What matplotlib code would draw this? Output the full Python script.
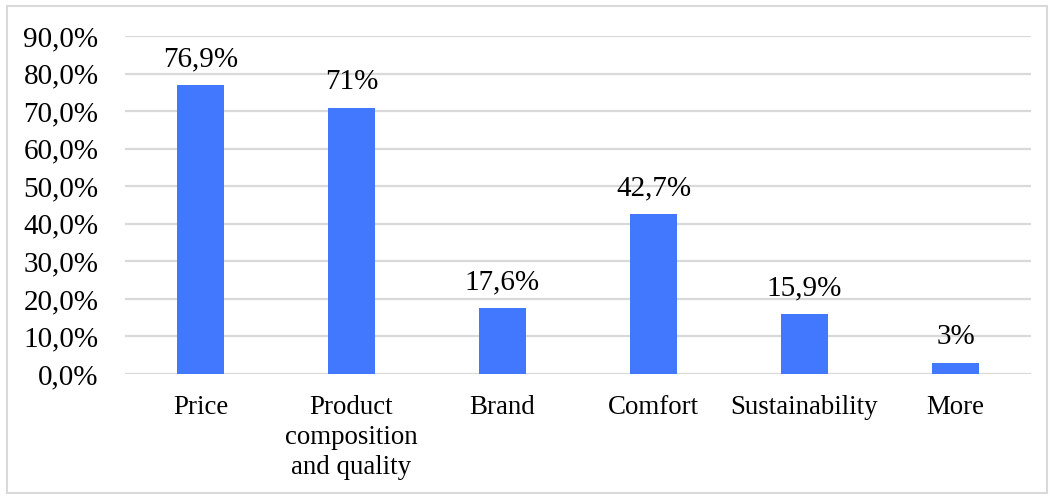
import matplotlib
matplotlib.use("Agg")
import matplotlib.pyplot as plt
from matplotlib.patches import Rectangle

categories = ["Price", "Product\ncomposition\nand quality", "Brand", "Comfort", "Sustainability", "More"]
values = [76.9, 71.0, 17.6, 42.7, 15.9, 3.0]
value_labels = ["76,9%", "71%", "17,6%", "42,7%", "15,9%", "3%"]
y_ticks = [0, 10, 20, 30, 40, 50, 60, 70, 80, 90]

plt.rcParams["font.family"] = ["Liberation Serif", "DejaVu Serif"]
NUM_FS = 21
CAT_FS = 19.4

fig = plt.figure(figsize=(10.52, 4.96), dpi=100)
ax = fig.add_axes([0.1188, 0.246, 0.8612, 0.681])

x = list(range(len(categories)))
ax.bar(x, values, width=0.31, color="#4178fe", zorder=3)

for xi, v, lab in zip(x, values, value_labels):
    ax.annotate(lab, (xi, v), xytext=(0, 9), textcoords="offset points",
                ha="center", va="bottom", fontsize=NUM_FS, color="#000000", zorder=4)

ax.set_xlim(-0.5, len(categories) - 0.5)
ax.set_ylim(0, 90)
ax.set_yticks(y_ticks)
ax.set_yticklabels([f"{t},0%" for t in y_ticks], fontsize=NUM_FS)
ax.set_xticks(x)
ax.set_xticklabels(categories, fontsize=CAT_FS, linespacing=1.28)
ax.tick_params(axis="both", length=0, colors="#000000")
ax.tick_params(axis="y", pad=19)
ax.tick_params(axis="x", pad=15)

ax.grid(axis="y", color="#d9d9d9", linewidth=1.6, zorder=0)
for s in ax.spines.values():
    s.set_visible(False)

# light frame around the whole chart
fig.patches.append(Rectangle((0.007, 0.006), 0.988, 0.982, transform=fig.transFigure,
                             fill=False, edgecolor="#d9d9d9", linewidth=1.5))

fig.savefig("out.png", dpi=100)
